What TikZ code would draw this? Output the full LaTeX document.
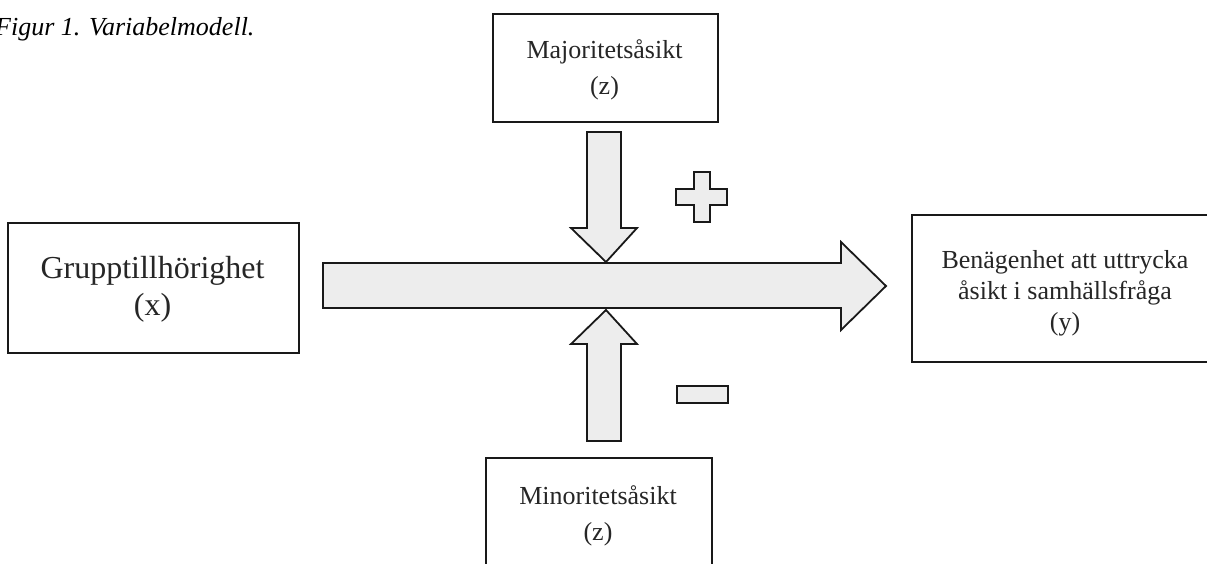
\documentclass[tikz,border=0pt]{standalone}
\usepackage{fontspec}
\setmainfont{Liberation Serif}
\begin{document}
\begin{tikzpicture}[x=1pt,y=-1pt,
  box/.style={draw=black!90,line width=1.8pt,fill=white,inner sep=0pt,align=center,anchor=north west},
  blockarrow/.style={draw=black!90,line width=1.8pt,fill=black!7,line join=miter},
  smalltxt/.style={font=\fontsize{26}{36}\selectfont},
  bigtxt/.style={font=\fontsize{32}{37}\selectfont}]
\useasboundingbox (0,0) rectangle (1207,563);
% caption
\node[anchor=base west,inner sep=0pt,font=\fontsize{26}{30}\selectfont\itshape] (cap) at (-5,35) {Figur 1. Variabelmodell.};
% boxes
\node[box,smalltxt,minimum width=225pt,minimum height=108pt] (maj) at (492,13) {};
\node[smalltxt,align=center,inner sep=0pt,text=black!85] (majt) at (604.5,70) {Majoritetsåsikt\\(z)};
\node[box,bigtxt,minimum width=291pt,minimum height=130pt] (grp) at (7,222) {};
\node[bigtxt,align=center,inner sep=0pt,text=black!85] (grpt) at (152.5,289) {Grupptillhörighet\\(x)};
\node[box,minimum width=320pt,minimum height=147pt] (ben) at (911,214) {};
\node[align=center,inner sep=0pt,font=\fontsize{26}{31}\selectfont,text=black!85] (bent) at (1065,293) {Benägenhet att uttrycka\\åsikt i samhällsfråga\\(y)};
\node[box,minimum width=226pt,minimum height=140pt] (min) at (485,457) {};
\node[smalltxt,align=center,inner sep=0pt,text=black!85] (mint) at (598,516) {Minoritetsåsikt\\(z)};
% main horizontal block arrow
\draw[blockarrow] (323,263) -- (841,263) -- (841,242) -- (886,286) -- (841,330) -- (841,308) -- (323,308) -- cycle;
% down arrow from majority
\draw[blockarrow] (587,132) -- (621,132) -- (621,228) -- (637,228) -- (606,262) -- (571,228) -- (587,228) -- cycle;
% up arrow from minority
\draw[blockarrow] (587,441) -- (621,441) -- (621,344) -- (637,344) -- (606,310) -- (571,344) -- (587,344) -- cycle;
% plus sign
\draw[blockarrow] (694,172) -- (710,172) -- (710,189) -- (727,189) -- (727,205) -- (710,205) -- (710,222) -- (694,222) -- (694,205) -- (676,205) -- (676,189) -- (694,189) -- cycle;
% minus sign
\draw[blockarrow] (677,386) rectangle (728,403);
\end{tikzpicture}
\end{document}
